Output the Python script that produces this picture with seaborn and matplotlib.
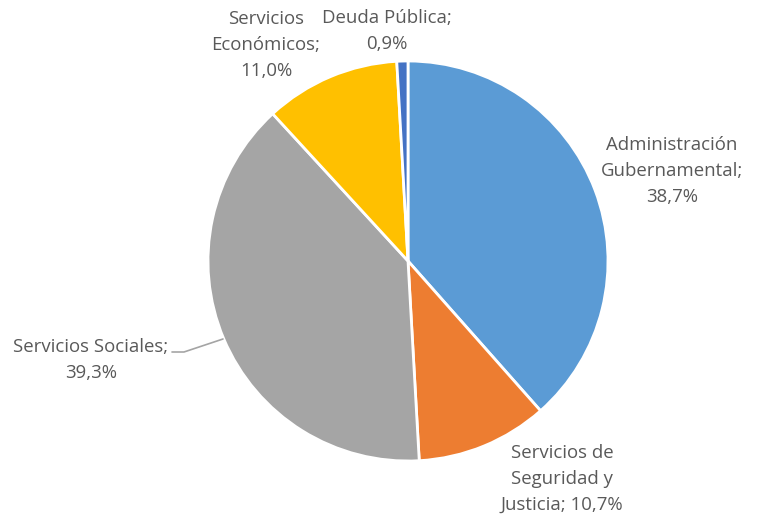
import matplotlib
matplotlib.use("Agg")
from matplotlib import pyplot as plt
import seaborn as sns

# Data (clockwise from 12 o'clock)
categories = ["Administración\nGubernamental;", "Servicios de\nSeguridad y\nJusticia;",
              "Servicios Sociales;", "Servicios\nEconómicos;", "Deuda Pública;"]
shares = [38.7, 10.7, 39.3, 11.0, 0.9]
colors = ["#5B9BD5", "#ED7D31", "#A5A5A5", "#FFC000", "#4472C4"]

sns.set_theme(style="white")
plt.rcParams['font.family'] = ['Open Sans', 'DejaVu Sans']

fig = plt.figure(figsize=(7.61, 5.18), dpi=100)
ax = fig.add_axes([0, 0, 1, 1])

cx, cy, r = 408, 518 - 261, 200
ax.pie(shares, colors=colors, startangle=90, counterclock=False, center=(cx, cy), radius=r,
       frame=True, wedgeprops=dict(edgecolor="white", linewidth=2))
ax.set_xlim(0, 761)
ax.set_ylim(0, 518)
ax.set_aspect("equal")
ax.axis("off")


def fmt(v):
    return f"{v:.1f}%".replace(".", ",")


txt = dict(color="#595959", fontsize=13.4, ha="center", va="center", linespacing=1.55)
ax.text(672, 518 - 171, f"{categories[0]}\n{fmt(shares[0])}", **txt)
ax.text(562, 518 - 479, f"{categories[1]} {fmt(shares[1])}", **txt)
ax.text(91, 518 - 360, f"{categories[2]}\n{fmt(shares[2])}", **txt)
ax.text(266, 518 - 45, f"{categories[3]}\n{fmt(shares[3])}", **txt)
ax.text(387, 518 - 31, f"{categories[4]}\n{fmt(shares[4])}", **txt)

# leader line for Servicios Sociales
ax.plot([172, 184, 223], [518 - 352, 518 - 352, 518 - 339], color="#A5A5A5", lw=1.2)

fig.savefig("out.png", dpi=100)
